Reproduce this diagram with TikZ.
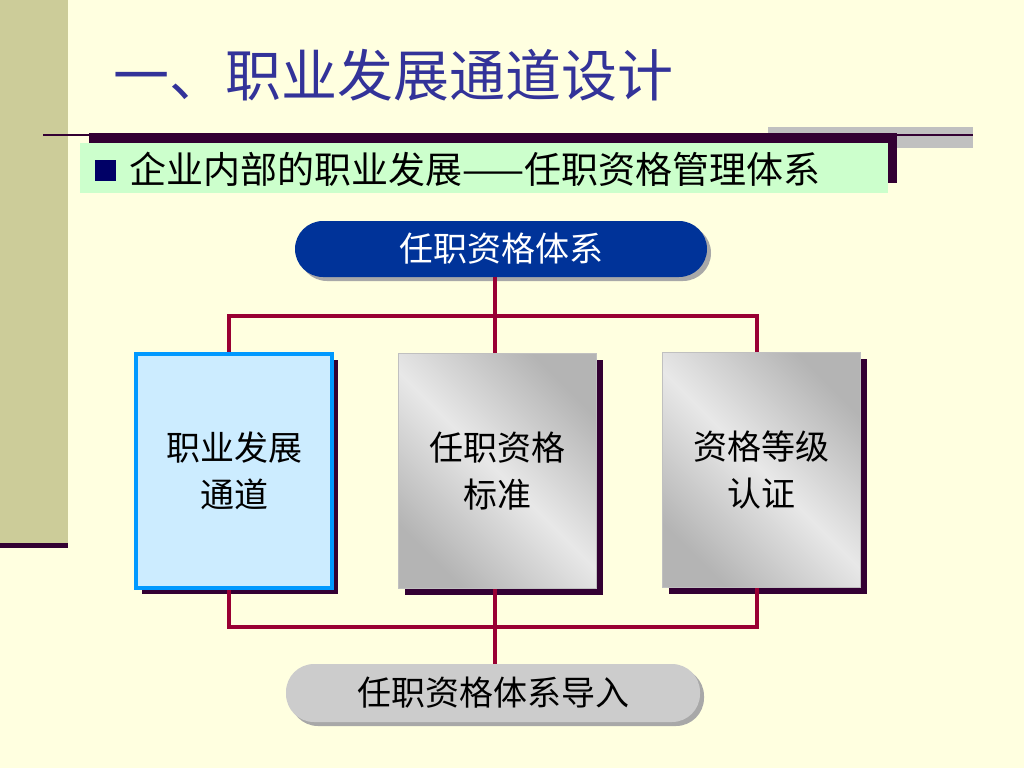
\documentclass[tikz,border=0pt]{standalone}
\usepackage{fontspec}
\setmainfont{Noto Sans CJK SC}
\usetikzlibrary{shadows,calc}
\definecolor{bgc}{HTML}{FFFFE0}
\definecolor{bandc}{HTML}{CCCC99}
\definecolor{darkc}{HTML}{330033}
\definecolor{greenc}{HTML}{CCFFCC}
\definecolor{navyc}{HTML}{000066}
\definecolor{titlec}{HTML}{333399}
\definecolor{pillblue}{HTML}{003399}
\definecolor{linec}{HTML}{990033}
\definecolor{boxfill}{HTML}{CCECFF}
\definecolor{boxblue}{HTML}{0099FF}
\definecolor{graybar}{HTML}{C0C0C0}
\definecolor{gdark}{HTML}{B4B4B4}
\definecolor{glight}{HTML}{E8E8E8}
\definecolor{pillgray}{HTML}{CCCCCC}
\definecolor{pillshadow}{HTML}{A8A8A8}
\pgfdeclarehorizontalshading{boxgrad}{100bp}{color(0bp)=(gdark); color(25bp)=(gdark); color(50bp)=(glight); color(75bp)=(gdark); color(100bp)=(gdark)}
\tikzset{
  cjkbig/.style={font=\fontsize{34}{47}\selectfont},
  boxshadow/.style={drop shadow={shadow xshift=6pt,shadow yshift=-6pt,fill=darkc,opacity=1}},
  bluebox/.style={draw=boxblue,line width=4pt,fill=boxfill,minimum width=196pt,minimum height=234pt,inner sep=0pt,align=center,cjkbig,boxshadow},
  graybox/.style={draw=graybar,line width=1pt,shading=boxgrad,shading angle=45,minimum width=198pt,minimum height=235pt,inner sep=0pt,align=center,cjkbig,boxshadow},
  pill/.style={rounded corners=28pt,inner sep=0pt,cjkbig,drop shadow={shadow xshift=4pt,shadow yshift=-4pt,fill=pillshadow,opacity=1}},
  conn/.style={draw=linec,line width=4pt},
}
\begin{document}
\begin{tikzpicture}[x=1pt,y=-1pt]
\useasboundingbox (0,0) rectangle (1024,768);
\fill[bgc] (0,0) rectangle (1024,768);
% left band
\fill[bandc] (0,0) rectangle (68,543);
\fill[darkc] (0,543) rectangle (68,548);
% title
\node[anchor=west,inner sep=0pt,text=titlec,font=\fontsize{56}{60}\selectfont] (title) at (113,75) {一、职业发展通道设计};
% header strip
\fill[graybar] (768,127) rectangle (973,148);
\draw[darkc,line width=2.5pt] (43,135) -- (973,135);
\node[fill=greenc,minimum width=808pt,minimum height=50pt,inner sep=0pt,
      drop shadow={shadow xshift=9pt,shadow yshift=10pt,fill=darkc,opacity=1}] (sub) at (484,168) {};
\node[fill=navyc,minimum size=21pt,inner sep=0pt] (bul) at (105,170) {};
\node[anchor=west,inner sep=0pt,font=\fontsize{37}{40}\selectfont] (subt) at (129,169) {企业内部的职业发展——任职资格管理体系};
% top pill
\node[pill,fill=pillblue,text=white,minimum width=412pt,minimum height=56pt] (top) at (501,249) {任职资格体系};
% boxes
\node[bluebox] (b1) at (234,471) {职业发展\\通道};
\node[graybox] (b2) at (497.5,471) {任职资格\\标准};
\node[graybox] (b3) at (761.5,470) {资格等级\\认证};
% bottom pill
\node[pill,fill=pillgray,minimum width=414pt,minimum height=58pt] (bot) at (493,693) {任职资格体系导入};
% connectors
\coordinate (c1) at (229,316);
\coordinate (c2) at (495,316);
\coordinate (c3) at (757,316);
\coordinate (d1) at (229,627);
\coordinate (d2) at (495,627);
\coordinate (d3) at (757,627);
\begin{scope}[on background layer/.style={}]
\draw[conn] (top.south -| c2) -- (c2 |- b2.north);
\draw[conn] (c1 |- b1.north) -- (c1) -- (c3) -- (c3 |- b3.north);
\draw[conn] (d1 |- b1.south) -- (d1) -- (d3) -- (d3 |- b3.south);
\draw[conn] (d2 |- b2.south) -- (d2 |- bot.north);
\end{scope}
\end{tikzpicture}
\end{document}
